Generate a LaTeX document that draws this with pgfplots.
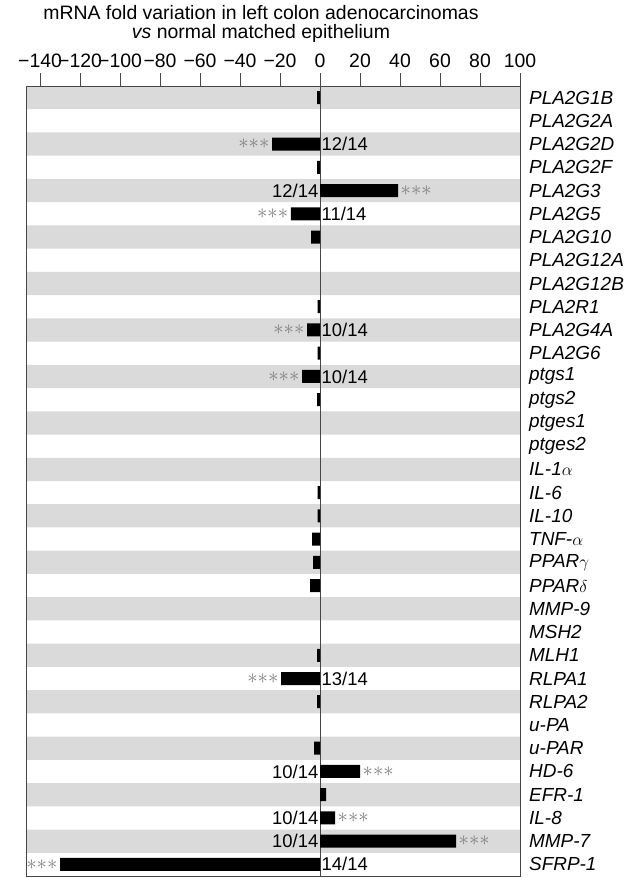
\documentclass[border=0pt]{standalone}
\usepackage{fontspec}
\setmainfont{Liberation Sans}
\usepackage{pgfplots}
\pgfplotsset{compat=1.18}
\definecolor{stripe}{RGB}{218,218,218}
\definecolor{axline}{RGB}{70,70,70}
\newcommand{\sig}{${\ast}{\ast}{\ast}$}
\begin{document}
\fontsize{18}{21}\selectfont
\begin{tikzpicture}
\path[use as bounding box] (-26.7bp,-2bp) rectangle (598.3bp,876bp);
\begin{axis}[
  at={(0,0)}, anchor=south west,
  width=493.3bp, height=790bp, scale only axis,
  xmin=-146.7, xmax=100,
  ymin=-0.5, ymax=33.5, y dir=reverse,
  axis on top,
  axis line style={axline, line width=1pt},
  xtick={-140,-120,...,100},
  xticklabels={−140,−120,−100,−80,−60,−40,−20,0,20,40,60,80,100},
  xtick pos=upper, xticklabel pos=upper, tick align=outside,
  major tick length=13bp,
  xtick style={axline, line width=1pt},
  x tick label style={font=\fontsize{19.5}{21}\selectfont, inner sep=0.5bp, yshift=5bp},
  ytick={0,...,33},
  ytick style={draw=none},
  yticklabel pos=upper,
  y tick label style={font=\fontsize{19}{21}\selectfont, anchor=west, xshift=-10bp},
  yticklabels={\textit{PLA2G1B},\textit{PLA2G2A},\textit{PLA2G2D},\textit{PLA2G2F},\textit{PLA2G3},\textit{PLA2G5},\textit{PLA2G10},\textit{PLA2G12A},\textit{PLA2G12B},\textit{PLA2R1},\textit{PLA2G4A},\textit{PLA2G6},\textit{ptgs1},\textit{ptgs2},\textit{ptges1},\textit{ptges2},\textit{IL-1}$\alpha$,\textit{IL-6},\textit{IL-10},\textit{TNF-}$\alpha$,\textit{PPAR}$\gamma$,\textit{PPAR}$\delta$,\textit{MMP-9},\textit{MSH2},\textit{MLH1},\textit{RLPA1},\textit{RLPA2},\textit{u-PA},\textit{u-PAR},\textit{HD-6},\textit{EFR-1},\textit{IL-8},\textit{MMP-7},\textit{SFRP-1}},
  clip=true,
]
% background stripes
\addplot[xbar, bar width=1, bar shift=0pt, fill=stripe, draw=none, forget plot]
  coordinates {(100,0)(100,2)(100,4)(100,6)(100,8)(100,10)(100,12)(100,14)(100,16)(100,18)(100,20)(100,22)(100,24)(100,26)(100,28)(100,30)(100,32)};
\addplot[xbar, bar width=1, bar shift=0pt, fill=stripe, draw=none, forget plot]
  coordinates {(-146.7,0)(-146.7,2)(-146.7,4)(-146.7,6)(-146.7,8)(-146.7,10)(-146.7,12)(-146.7,14)(-146.7,16)(-146.7,18)(-146.7,20)(-146.7,22)(-146.7,24)(-146.7,26)(-146.7,28)(-146.7,30)(-146.7,32)};
% zero line
\draw[axline, line width=1pt] (axis cs:0,-0.5) -- (axis cs:0,33.5);
% data bars
\addplot[xbar, bar width=0.56, bar shift=0pt, fill=black, draw=none]
  coordinates {
  (-1.5,0) (-24,2) (-1.5,3) (39,4) (-14.6,5) (-4.5,6) (-1.2,9) (-6.5,10) (-1.2,11)
  (-9,12) (-1.5,13) (-1.2,17) (-1.2,18) (-4,19) (-3.5,20) (-5,21) (-1.5,24)
  (-19.5,25) (-1.5,26) (-3,28) (20,29) (3,30) (7.5,31) (68,32) (-130,33)};
% annotations
\tikzset{cnt/.style={inner sep=1.5bp, font=\fontsize{18.5}{21}\selectfont},
         sig/.style={inner sep=2.5bp, text=black!50, font=\fontsize{21}{21}\selectfont}}
\node[cnt, anchor=west] at (axis cs:0,2) {12/14};
\node[sig, anchor=east] at (axis cs:-24,2) {\sig};
\node[cnt, anchor=east] at (axis cs:0,4) {12/14};
\node[sig, anchor=west] at (axis cs:39,4) {\sig};
\node[cnt, anchor=west] at (axis cs:0,5) {11/14};
\node[sig, anchor=east] at (axis cs:-14.6,5) {\sig};
\node[cnt, anchor=west] at (axis cs:0,10) {10/14};
\node[sig, anchor=east] at (axis cs:-6.5,10) {\sig};
\node[cnt, anchor=west] at (axis cs:0,12) {10/14};
\node[sig, anchor=east] at (axis cs:-9,12) {\sig};
\node[cnt, anchor=west] at (axis cs:0,25) {13/14};
\node[sig, anchor=east] at (axis cs:-19.5,25) {\sig};
\node[cnt, anchor=east] at (axis cs:0,29) {10/14};
\node[sig, anchor=west] at (axis cs:20,29) {\sig};
\node[cnt, anchor=east] at (axis cs:0,31) {10/14};
\node[sig, anchor=west] at (axis cs:7.5,31) {\sig};
\node[cnt, anchor=east] at (axis cs:0,32) {10/14};
\node[sig, anchor=west] at (axis cs:68,32) {\sig};
\node[cnt, anchor=west] at (axis cs:0,33) {14/14};
\node[sig, anchor=east] at (axis cs:-130,33) {\sig};
\end{axis}
\node[align=center, font=\fontsize{19.5}{18.5}\selectfont, inner sep=0pt] at (234.3bp,852bp)
  {mRNA fold variation in left colon adenocarcinomas\\\textit{vs} normal matched epithelium};
\end{tikzpicture}
\end{document}
